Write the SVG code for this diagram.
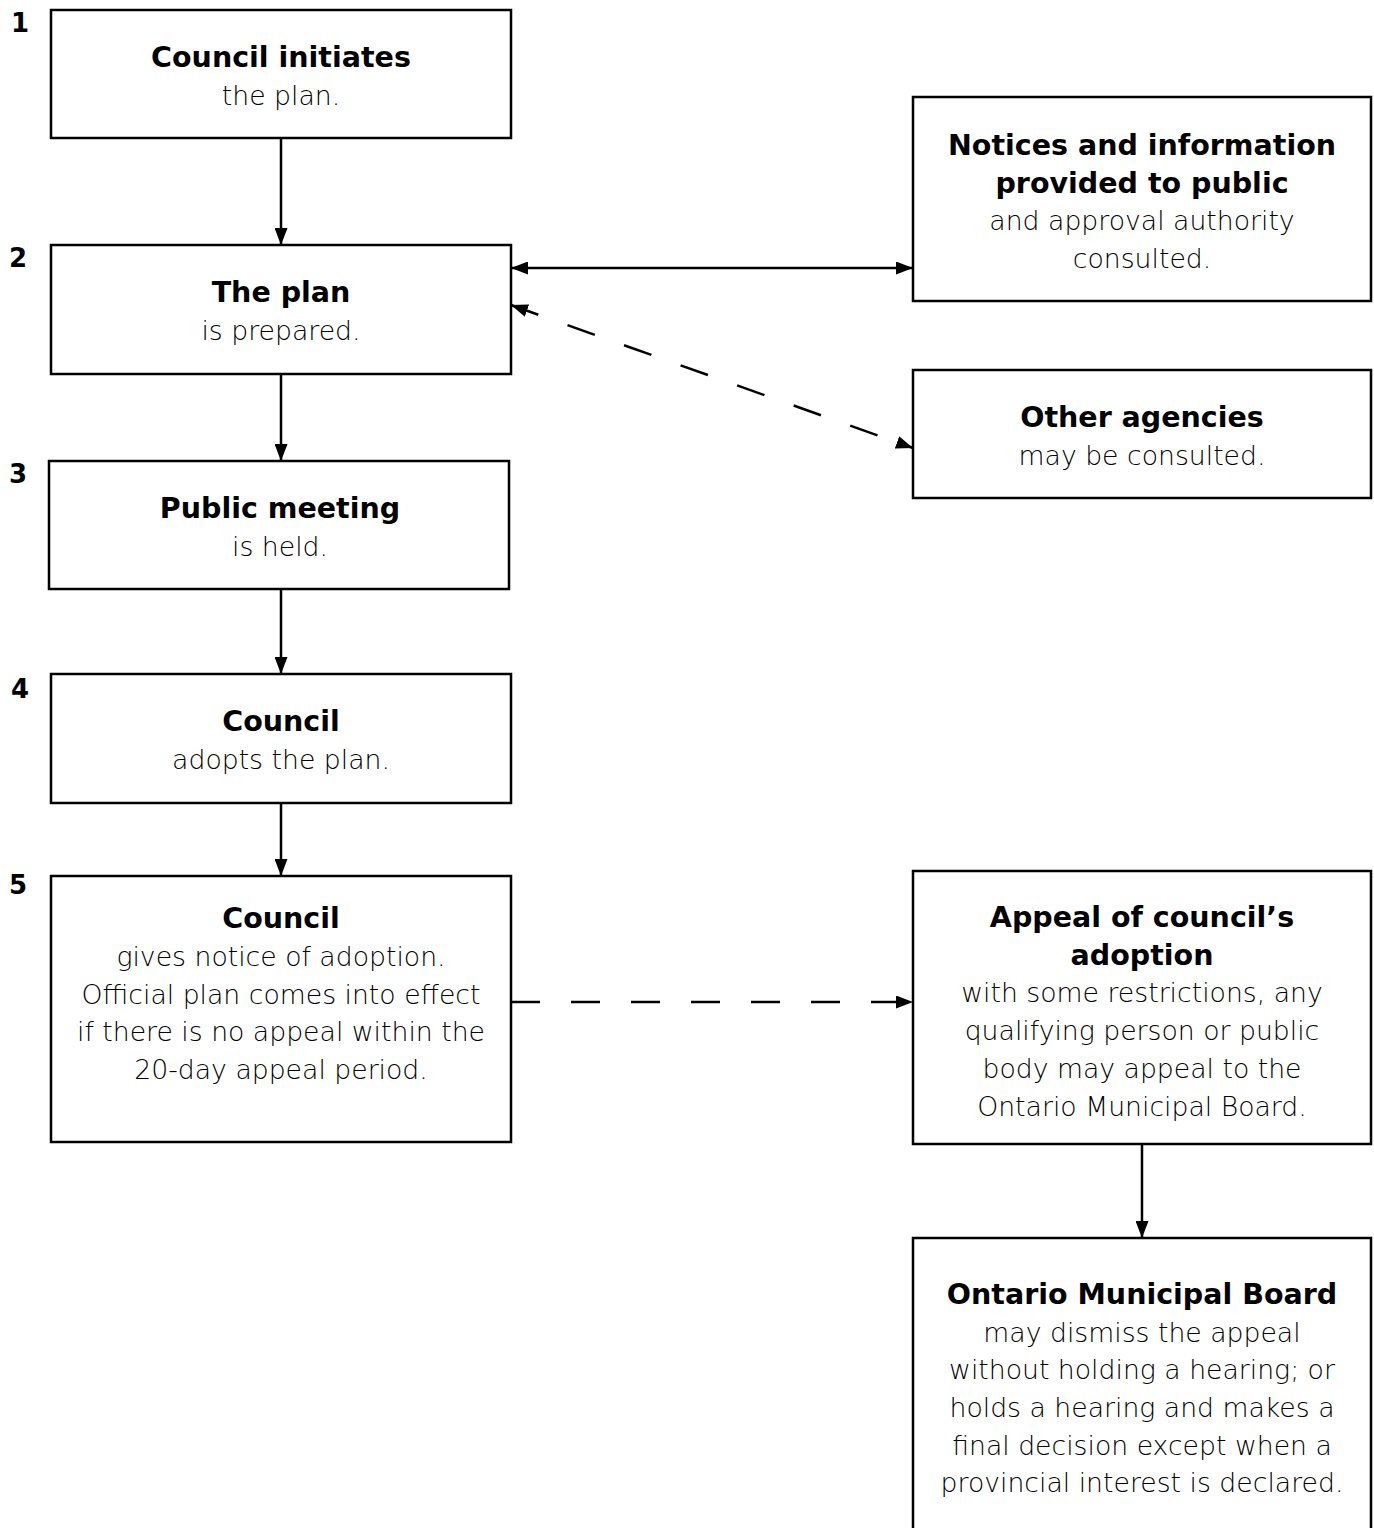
<svg xmlns="http://www.w3.org/2000/svg" width="1374" height="1528" viewBox="0 0 1374 1528">
<style>
.box{fill:#fff;stroke:#000;stroke-width:2.5}
.t{font-family:"DejaVu Sans","Liberation Sans",sans-serif;font-size:26.7px;font-weight:200;text-anchor:middle;fill:#000}
.b{font-weight:bold;font-size:28.5px}
.n{font-family:"DejaVu Sans","Liberation Sans",sans-serif;font-size:26px;font-weight:bold;fill:#000}
.c{fill:none;stroke:#000;stroke-width:2.5}
.d{stroke-dasharray:29 31}
</style>
<defs>
<marker id="ah" viewBox="0 0 17 13" refX="17" refY="6.5" markerWidth="17" markerHeight="13" markerUnits="userSpaceOnUse" orient="auto-start-reverse">
<path d="M0,0 L17,6.5 L0,13 Z" fill="#000"/>
</marker>
</defs>
<rect width="1374" height="1528" fill="#fff"/>
<g id="numbers">
<text class="n" x="11" y="32">1</text>
<text class="n" x="9" y="267">2</text>
<text class="n" x="9" y="483">3</text>
<text class="n" x="11" y="698">4</text>
<text class="n" x="9" y="894">5</text>
</g>
<g id="connectors">
<line class="c" x1="281" y1="138" x2="281" y2="245" marker-end="url(#ah)"/>
<line class="c" x1="281" y1="374" x2="281" y2="461" marker-end="url(#ah)"/>
<line class="c" x1="281" y1="589" x2="281" y2="674" marker-end="url(#ah)"/>
<line class="c" x1="281" y1="803" x2="281" y2="876" marker-end="url(#ah)"/>
<line class="c" x1="511" y1="268" x2="913" y2="268" marker-start="url(#ah)" marker-end="url(#ah)"/>
<line class="c d" x1="511" y1="305" x2="913" y2="448" marker-start="url(#ah)" marker-end="url(#ah)"/>
<line class="c d" x1="511" y1="1002" x2="913" y2="1002" marker-end="url(#ah)"/>
<line class="c" x1="1142" y1="1144" x2="1142" y2="1238" marker-end="url(#ah)"/>
</g>
<g id="n1">
<rect class="box" x="51" y="10" width="460" height="128"/>
<text class="t b" x="281" y="67">Council initiates</text>
<text class="t" x="281" y="105">the plan.</text>
</g>
<g id="n2">
<rect class="box" x="51" y="245" width="460" height="129"/>
<text class="t b" x="281" y="302">The plan</text>
<text class="t" x="281" y="340">is prepared.</text>
</g>
<g id="n3">
<rect class="box" x="49" y="461" width="460" height="128"/>
<text class="t b" x="280" y="518">Public meeting</text>
<text class="t" x="280" y="556">is held.</text>
</g>
<g id="n4">
<rect class="box" x="51" y="674" width="460" height="129"/>
<text class="t b" x="281" y="731">Council</text>
<text class="t" x="281" y="769">adopts the plan.</text>
</g>
<g id="n5">
<rect class="box" x="51" y="876" width="460" height="266"/>
<text class="t b" x="281" y="928">Council</text>
<text class="t" x="281" y="966">gives notice of adoption.</text>
<text class="t" x="281" y="1004">Official plan comes into effect</text>
<text class="t" x="281" y="1041">if there is no appeal within the</text>
<text class="t" x="281" y="1079">20-day appeal period.</text>
</g>
<g id="n6">
<rect class="box" x="913" y="97" width="458" height="204"/>
<text class="t b" x="1142" y="155">Notices and information</text>
<text class="t b" x="1142" y="193">provided to public</text>
<text class="t" x="1142" y="230">and approval authority</text>
<text class="t" x="1142" y="268">consulted.</text>
</g>
<g id="n7">
<rect class="box" x="913" y="370" width="458" height="128"/>
<text class="t b" x="1142" y="427">Other agencies</text>
<text class="t" x="1142" y="465">may be consulted.</text>
</g>
<g id="n8">
<rect class="box" x="913" y="871" width="458" height="273"/>
<text class="t b" x="1142" y="927">Appeal of council’s</text>
<text class="t b" x="1142" y="965">adoption</text>
<text class="t" x="1142" y="1002">with some restrictions, any</text>
<text class="t" x="1142" y="1040">qualifying person or public</text>
<text class="t" x="1142" y="1078">body may appeal to the</text>
<text class="t" x="1142" y="1116">Ontario Municipal Board.</text>
</g>
<g id="n9">
<rect class="box" x="913" y="1238" width="458" height="300"/>
<text class="t b" x="1142" y="1304">Ontario Municipal Board</text>
<text class="t" x="1142" y="1342">may dismiss the appeal</text>
<text class="t" x="1142" y="1379">without holding a hearing; or</text>
<text class="t" x="1142" y="1417">holds a hearing and makes a</text>
<text class="t" x="1142" y="1455">final decision except when a</text>
<text class="t" x="1142" y="1492">provincial interest is declared.</text>
</g>
</svg>
